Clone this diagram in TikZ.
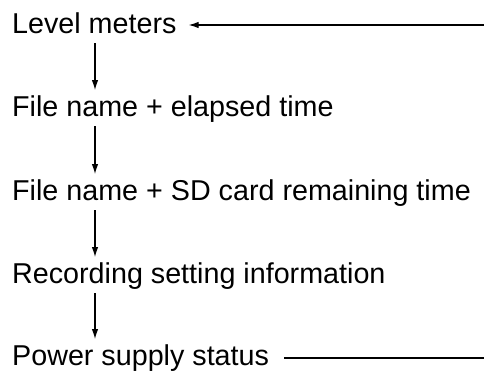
\documentclass[tikz,border=0pt]{standalone}
\usepackage{fontspec}
\setmainfont{Liberation Sans}
\usetikzlibrary{arrows.meta}

\begin{document}
\begin{tikzpicture}[x=1pt,y=-1pt]
\tikzset{item/.style = {anchor=base west,inner sep=0pt,font=\fontsize{28.7pt}{34pt}\selectfont}}
\tikzset{flow/.style = {line width=1.1pt,-{Latex[length=10pt,width=6.5pt]}}}
\useasboundingbox (0,0) rectangle (484,372);
% items
\node[item] (lm) at (12,33)  {Level meters};
\node[item] (fe) at (12,116) {File name + elapsed time};
\node[item] (fr) at (12,200) {File name + SD card remaining time};
\node[item] (rs) at (12,283) {Recording setting information};
\node[item] (ps) at (12,365) {Power supply status};
% loop ends
\coordinate (rtop) at (484,25);
\coordinate (rbot) at (484,358);
% arrows
\draw[flow] ([shift={(83,10)}]lm.base west) -- ([shift={(83,-26)}]fe.base west);
\draw[flow] ([shift={(83,10)}]fe.base west) -- ([shift={(83,-26)}]fr.base west);
\draw[flow] ([shift={(83,10)}]fr.base west) -- ([shift={(83,-26)}]rs.base west);
\draw[flow] ([shift={(83,10)}]rs.base west) -- ([shift={(83,-26)}]ps.base west);
\draw[flow] (rtop) -- ([shift={(12,-8)}]lm.base east);
\draw[line width=1.1pt] ([shift={(15,-7)}]ps.base east) -- (rbot);
\end{tikzpicture}
\end{document}
